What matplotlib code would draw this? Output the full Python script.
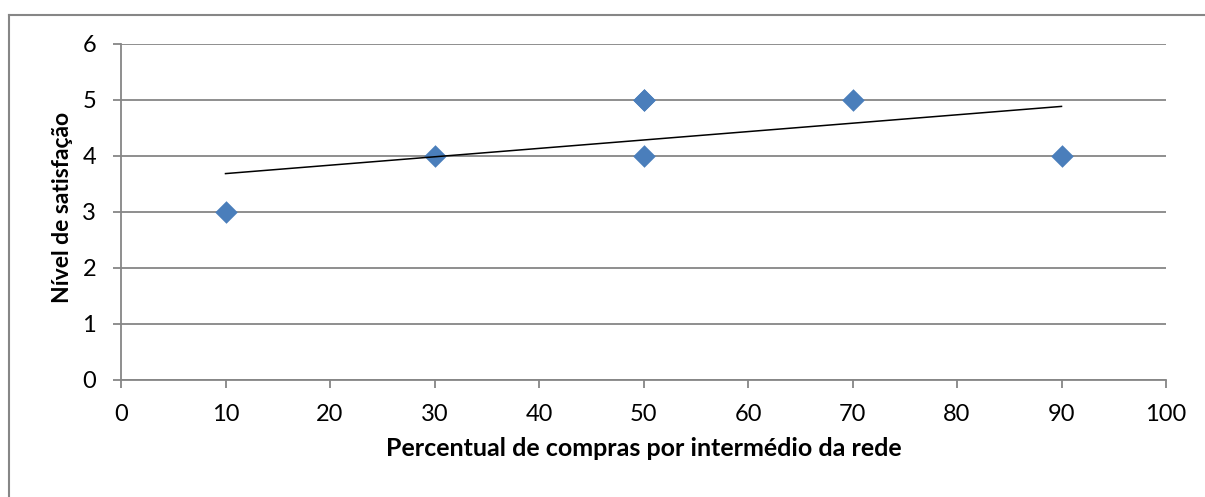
import numpy as np
import matplotlib
matplotlib.use("Agg")
import matplotlib.pyplot as plt
from matplotlib.lines import Line2D

plt.rcParams['font.family'] = ['Lato', 'DejaVu Sans']

# Data
x_vals = [10, 30, 50, 50, 50, 70, 90]
y_vals = [3, 4, 5, 5, 4, 5, 4]
x_ticks = [0, 10, 20, 30, 40, 50, 60, 70, 80, 90, 100]
y_ticks = [0, 1, 2, 3, 4, 5, 6]
x_label = "Percentual de compras por intermédio da rede"
y_label = "Nível de satisfação"

grid_c = "#868686"
marker_c = "#4A7EBB"

fig = plt.figure(figsize=(12.05, 4.97), dpi=100)
ax = fig.add_axes([121/1205, 1-380/497, (1166-121)/1205, (380-44)/497])

ax.scatter(x_vals, y_vals, marker='D', s=11.5**2, color=marker_c, zorder=3, linewidths=0)

coef = np.polyfit(x_vals, y_vals, 1)
xs = np.array([min(x_vals), max(x_vals)])
ax.plot(xs, np.polyval(coef, xs), color='black', lw=1.1, zorder=4)

ax.set_xlim(0, 100)
ax.set_ylim(0, 6)
ax.set_xticks(x_ticks)
ax.set_yticks(y_ticks)
ax.yaxis.grid(True, color=grid_c, lw=1.3)
ax.set_axisbelow(True)
for s in ['top', 'right']:
    ax.spines[s].set_visible(False)
for s in ['left', 'bottom']:
    ax.spines[s].set_color(grid_c)
    ax.spines[s].set_linewidth(1.3)
ax.tick_params(axis='both', direction='out', length=6, width=1.3, color=grid_c,
               labelsize=17, labelcolor='black')
ax.tick_params(axis='y', pad=12)
ax.tick_params(axis='x', pad=11)

ax.set_xlabel(x_label, fontsize=18, fontweight='bold', labelpad=9)
ax.set_ylabel(y_label, fontsize=16.5, fontweight='bold')
ax.yaxis.set_label_coords(-0.046, 0.515)

# outer chart border
fig.add_artist(Line2D([8.5/1205, 8.5/1205], [0, 1-14.5/497], color=grid_c, lw=1.5, transform=fig.transFigure))
fig.add_artist(Line2D([8.5/1205, 1.0], [1-14.5/497, 1-14.5/497], color=grid_c, lw=1.5, transform=fig.transFigure))

fig.savefig("out.png", dpi=100)
